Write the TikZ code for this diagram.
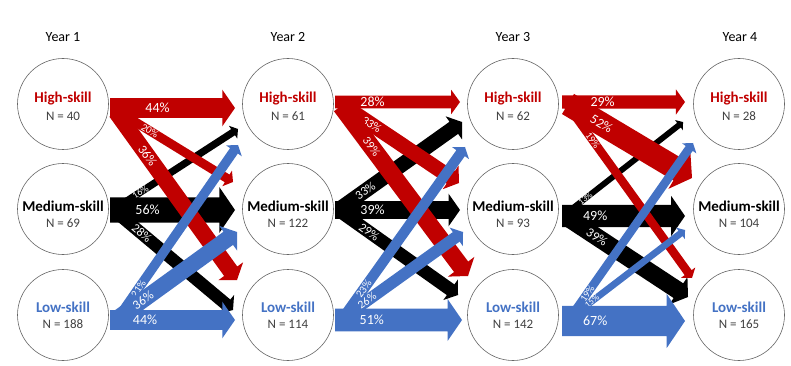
\documentclass[tikz,border=0pt]{standalone}
\usepackage{fontspec}
\setmainfont{Carlito}
\usetikzlibrary{calc}
\definecolor{skred}{HTML}{C00000}
\definecolor{skblue}{HTML}{4472C4}
\definecolor{skgray}{HTML}{404040}
\newcommand\flowarrow[7]{%
  \pgfmathsetmacro\fa{#4/2}%
  \pgfmathsetmacro\fb{(1.7*#4+3)/2}%
  \pgfmathsetmacro\fl{0.32*(1.7*#4+3)+1}%
  \path ($(#3)!\fl pt!(#2)$) coordinate (fH);
  \fill[#1] ($(#2)!\fa pt!90:(#3)$) -- ($(fH)!\fa pt!-90:(#2)$) -- ($(fH)!\fb pt!-90:(#2)$) -- (#3) -- ($(fH)!\fb pt!90:(#2)$) -- ($(fH)!\fa pt!90:(#2)$) -- ($(#2)!\fa pt!-90:(#3)$) -- cycle;
  \path (#2) -- (#3) node[pos=#5, sloped, text=white, font=\fontsize{#7}{#7}\selectfont, inner sep=0pt] {#6};
}
\begin{document}
\begin{tikzpicture}[x=1pt,y=-1pt,
  skill/.style={circle, draw=black!60, line width=0.6pt, minimum size=91pt, inner sep=0pt},
  sklab/.style={font=\fontsize{15}{17}\selectfont\bfseries, inner sep=0pt},
  nlab/.style={font=\fontsize{13}{15}\selectfont, text=skgray, inner sep=0pt},
  yearlab/.style={font=\fontsize{14}{16}\selectfont}]
\useasboundingbox (0,0) rectangle (791,366);
% year labels
\node[yearlab] (y1) at (63,37) {Year 1};
\node[yearlab] (y2) at (288,37) {Year 2};
\node[yearlab] (y3) at (513,37) {Year 3};
\node[yearlab] (y4) at (740,37) {Year 4};
% circles
\foreach \c/\x/\nh/\nm/\nl in {1/63/40/69/188, 2/288/61/122/114, 3/513/62/93/142, 4/739/28/104/165}{
  \node[skill] (h\c) at (\x,104) {};
  \node[sklab, text=skred] (h\c t) at (\x,99) {High-skill};
  \node[nlab] (h\c n) at (\x,116) {N = \nh};
  \node[skill] (m\c) at (\x,209) {};
  \node[sklab, text=black] (m\c t) at (\x,206) {Medium-skill};
  \node[nlab] (m\c n) at (\x,223) {N = \nm};
  \node[skill] (l\c) at (\x,315) {};
  \node[sklab, text=skblue] (l\c t) at (\x,307) {Low-skill};
  \node[nlab] (l\c n) at (\x,324) {N = \nl};
}
% coordinates block 1
\coordinate (s1hh) at (110,108); \coordinate (t1hh) at (235,108);
\coordinate (s1hm) at (116,110); \coordinate (t1hm) at (233,182);
\coordinate (s1hl) at (116,112); \coordinate (t1hl) at (237,280);
\coordinate (s1mh) at (116,208); \coordinate (t1mh) at (238,129);
\coordinate (s1mm) at (110,210); \coordinate (t1mm) at (235,210);
\coordinate (s1ml) at (116,212); \coordinate (t1ml) at (233,310);
\coordinate (s1lh) at (118,318); \coordinate (t1lh) at (238,145);
\coordinate (s1lm) at (118,318); \coordinate (t1lm) at (237,232);
\coordinate (s1ll) at (110,320); \coordinate (t1ll) at (235,320);
% block 2
\coordinate (s2hh) at (335,102); \coordinate (t2hh) at (460,102);
\coordinate (s2hm) at (341,104); \coordinate (t2hm) at (459,183);
\coordinate (s2hl) at (341,106); \coordinate (t2hl) at (468,276);
\coordinate (s2mh) at (341,208); \coordinate (t2mh) at (462,122);
\coordinate (s2mm) at (335,210); \coordinate (t2mm) at (460,210);
\coordinate (s2ml) at (341,212); \coordinate (t2ml) at (458,295);
\coordinate (s2lh) at (343,318); \coordinate (t2lh) at (465,147);
\coordinate (s2lm) at (343,318); \coordinate (t2lm) at (463,232);
\coordinate (s2ll) at (335,320); \coordinate (t2ll) at (462,320);
% block 3
\coordinate (s3hh) at (562,102); \coordinate (t3hh) at (685,102);
\coordinate (s3hm) at (568,104); \coordinate (t3hm) at (692,178);
\coordinate (s3hl) at (568,106); \coordinate (t3hl) at (692,278);
\coordinate (s3mh) at (568,212); \coordinate (t3mh) at (683,122);
\coordinate (s3mm) at (562,216); \coordinate (t3mm) at (685,216);
\coordinate (s3ml) at (568,218); \coordinate (t3ml) at (688,297);
\coordinate (s3lh) at (570,318); \coordinate (t3lh) at (693,143);
\coordinate (s3lm) at (570,318); \coordinate (t3lm) at (685,230);
\coordinate (s3ll) at (562,321); \coordinate (t3ll) at (685,321);
% black arrows
\flowarrow{black}{s1mh}{t1mh}{7.2}{0.2}{16\%}{10}
\flowarrow{black}{s1mm}{t1mm}{25.2}{0.3}{56\%}{14}
\flowarrow{black}{s1ml}{t1ml}{12.6}{0.22}{28\%}{12.5}
\flowarrow{black}{s2mh}{t2mh}{14.85}{0.2}{33\%}{12.5}
\flowarrow{black}{s2mm}{t2mm}{17.55}{0.3}{39\%}{14}
\flowarrow{black}{s2ml}{t2ml}{13.05}{0.24}{29\%}{12.5}
\flowarrow{black}{s3mh}{t3mh}{5.85}{0.15}{13\%}{9}
\flowarrow{black}{s3mm}{t3mm}{22.05}{0.27}{49\%}{14}
\flowarrow{black}{s3ml}{t3ml}{17.55}{0.24}{39\%}{13}
% red arrows
\flowarrow{skred}{s1hm}{t1hm}{9}{0.29}{20\%}{10.5}
\flowarrow{skred}{s1hl}{t1hl}{16.2}{0.26}{36\%}{13}
\flowarrow{skred}{s1hh}{t1hh}{19.8}{0.38}{44\%}{14}
\flowarrow{skred}{s2hm}{t2hm}{14.85}{0.26}{33\%}{12}
\flowarrow{skred}{s2hl}{t2hl}{17.55}{0.24}{39\%}{12}
\flowarrow{skred}{s2hh}{t2hh}{12.6}{0.3}{28\%}{14}
\flowarrow{skred}{s3hm}{t3hm}{23.4}{0.27}{52\%}{13.5}
\flowarrow{skred}{s3hl}{t3hl}{8.55}{0.2}{19\%}{10}
\flowarrow{skred}{s3hh}{t3hh}{13.05}{0.33}{29\%}{14}
% blue arrows
\flowarrow{skblue}{s1lh}{t1lh}{9.45}{0.17}{21\%}{10.5}
\flowarrow{skblue}{s1lm}{t1lm}{16.2}{0.21}{36\%}{13}
\flowarrow{skblue}{s1ll}{t1ll}{19.8}{0.28}{44\%}{14}
\flowarrow{skblue}{s2lh}{t2lh}{10.35}{0.17}{23\%}{11}
\flowarrow{skblue}{s2lm}{t2lm}{11.7}{0.2}{26\%}{11.5}
\flowarrow{skblue}{s2ll}{t2ll}{22.95}{0.29}{51\%}{14}
\flowarrow{skblue}{s3lh}{t3lh}{8.55}{0.14}{19\%}{10}
\flowarrow{skblue}{s3lm}{t3lm}{6.75}{0.19}{15\%}{9}
\flowarrow{skblue}{s3ll}{t3ll}{30.15}{0.27}{67\%}{14}
\end{tikzpicture}
\end{document}
